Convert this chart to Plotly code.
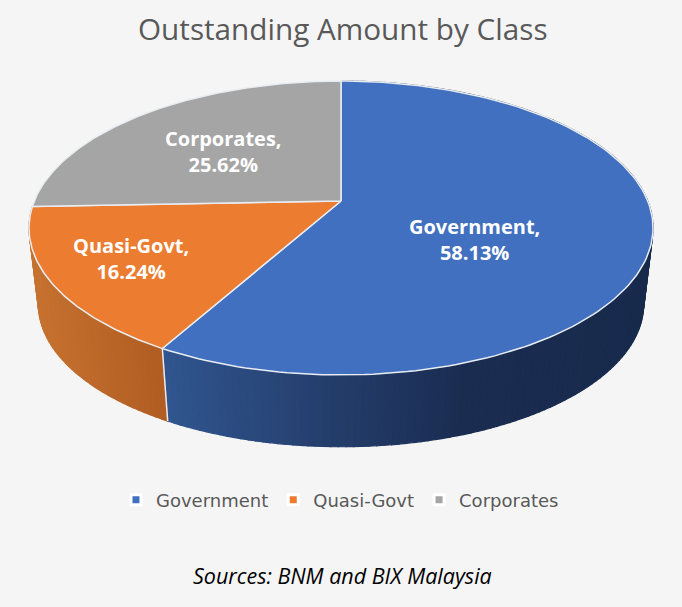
import numpy as np
import plotly.graph_objects as go

categories = ["Government", "Quasi-Govt", "Corporates"]
shares = [58.13, 16.24, 25.62]
top_colors = ["#4270C0", "#EB7C30", "#A5A5A5"]
side_stops = [
    [(165, "#30558F"), (341, "#233C69"), (470, "#1A2C50"), (655, "#182A4C")],
    [(30, "#C67230"), (165, "#B05C22")],
    None,
]
title_text = "Outstanding Amount by Class"
source_text = "Sources: BNM and BIX Malaysia"

W, H = 682, 607
CX, CY = 341.0, 201.0
A, B, K = 306.7, 142.0, 0.1837
SIDE_CY, SIDE_SCALE = 278.0, 0.97
BG = "#F5F5F5"
EDGE = "#E9EDF2"


def top_pt(theta):
    u, v = np.sin(theta), np.cos(theta)
    d = 1 + K * v
    return CX + A * u / d, CY - B * v / d


def bottom_pt(theta):
    x, y = top_pt(theta)
    return CX + (x - CX) * SIDE_SCALE, SIDE_CY + (y - CY) * SIDE_SCALE


def hex_rgb(h):
    return np.array([int(h[i:i + 2], 16) for i in (1, 3, 5)], float)


def ramp(stops, x):
    xs = [s[0] for s in stops]
    rgb = [hex_rgb(s[1]) for s in stops]
    vals = [np.interp(x, xs, [c[i] for c in rgb]) for i in range(3)]
    return "rgb(%d,%d,%d)" % tuple(int(round(v)) for v in vals)


total = sum(shares)
edges = np.concatenate([[0], np.cumsum(shares)]) / total * 2 * np.pi
fig = go.Figure()

# extruded rim, split into short shaded strips
for i, cat in enumerate(categories):
    if side_stops[i] is None:
        continue
    start, end = edges[i], edges[i + 1]
    n = max(2, int((end - start) / np.radians(1.2)))
    th = np.linspace(start, end, n + 1)
    for a, b in zip(th[:-1], th[1:]):
        t = np.linspace(a, b, 3)
        xt, yt = top_pt(t)
        xb, yb = bottom_pt(t[::-1])
        col = ramp(side_stops[i], float(xt.mean()))
        fig.add_trace(go.Scatter(
            x=np.concatenate([xt, xb, xt[:1]]), y=np.concatenate([yt, yb, yt[:1]]),
            mode="lines", fill="toself", fillcolor=col, line=dict(color=col, width=1.2),
            hoverinfo="skip", showlegend=False))

# seam where the first two classes meet on the rim
x0, y0 = top_pt(edges[1])
x1, y1 = bottom_pt(edges[1])
fig.add_trace(go.Scatter(x=[x0, x1], y=[y0, y1], mode="lines",
                         line=dict(color=EDGE, width=1.5), hoverinfo="skip", showlegend=False))

# top faces
for i, cat in enumerate(categories):
    t = np.linspace(edges[i], edges[i + 1], 160)
    xa, ya = top_pt(t)
    fig.add_trace(go.Scatter(
        x=np.concatenate([[CX], xa, [CX]]), y=np.concatenate([[CY], ya, [CY]]),
        mode="lines", fill="toself", fillcolor=top_colors[i],
        line=dict(color=EDGE, width=1.5), hoverinfo="skip", showlegend=False))

# legend keys
for i, cat in enumerate(categories):
    fig.add_trace(go.Scatter(
        x=[None], y=[None], mode="markers", name=cat,
        marker=dict(symbol="square", size=10, color=top_colors[i], line=dict(color="white", width=3))))

label_pos = [(474.5, 239), (131, 258), (223, 151)]
annotations = [
    dict(x=x, y=y, xref="x", yref="y", showarrow=False, align="center",
         text=f"<b>{c},<br>{s:.2f}%</b>",
         font=dict(family="Open Sans", size=20, color="white"))
    for (x, y), c, s in zip(label_pos, categories, shares)
]
annotations.append(dict(x=343, y=28, xref="x", yref="y", showarrow=False, text=title_text,
                        font=dict(family="Open Sans", size=29.7, color="#595959")))
annotations.append(dict(x=342, y=575, xref="x", yref="y", showarrow=False,
                        text=f"<i>{source_text}</i>",
                        font=dict(family="Open Sans", size=21.5, color="black")))

fig.update_layout(
    width=W, height=H, margin=dict(l=0, r=0, t=0, b=0),
    paper_bgcolor=BG, plot_bgcolor=BG,
    xaxis=dict(range=[0, W], visible=False, fixedrange=True),
    yaxis=dict(range=[H, 0], visible=False, fixedrange=True),
    annotations=annotations,
    showlegend=True,
    legend=dict(orientation="h", x=0.4985, xanchor="center", y=1 - 500 / H, yanchor="middle",
                bgcolor="rgba(0,0,0,0)", itemsizing="trace", itemwidth=30,
                font=dict(family="DejaVu Sans", size=18, color="#595959")),
)
fig.write_html("out.html", config=dict(displayModeBar=False),
               post_script="document.body.style.margin='0';document.body.style.background='#F5F5F5';")
